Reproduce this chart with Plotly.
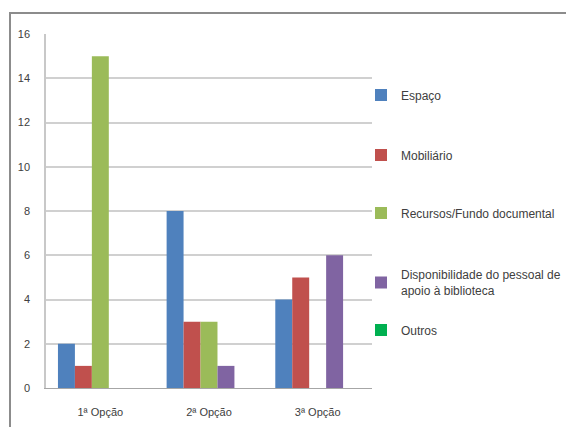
import plotly.graph_objects as go

categories = ["1ª Opção", "2ª Opção", "3ª Opção"]
series_names = ["Espaço", "Mobiliário", "Recursos/Fundo documental",
                "Disponibilidade do pessoal de<br>apoio à biblioteca", "Outros"]
espaco = [2, 8, 4]
mobiliario = [1, 3, 5]
recursos = [15, 3, 0]
disponibilidade = [0, 1, 6]
outros = [0, 0, 0]
colors = ["#4F81BD", "#C0504D", "#9BBB59", "#8064A2", "#00B050"]
y_ticks = [0, 2, 4, 6, 8, 10, 12, 14, 16]

values = [espaco, mobiliario, recursos, disponibilidade, outros]

FONT = "Liberation Sans Narrow, Arial Narrow, Liberation Sans, sans-serif"
OFF = 8  # default page body margin
PW, PH = 574, 427
W, H = PW - OFF, PH - OFF
# plot area in page pixels: left 46, right 372, top 34, bottom 388
ml, mt = 46 - OFF, 34 - OFF
mr, mb = W - (372 - OFF), H - (388 - OFF)
pw, ph = W - ml - mr, H - mt - mb

def px_x(x):  # page pixel -> paper
    return (x - OFF - ml) / pw

def px_y(y):
    return (H - mb - (y - OFF)) / ph

fig = go.Figure()
legend_names = ["legend", "legend2", "legend3", "legend4", "legend5"]
legend_centers = [95, 155, 213, 283, 330]
for name, vals, col, lg in zip(series_names, values, colors, legend_names):
    fig.add_trace(go.Bar(x=categories, y=vals, name=name, marker_color=col,
                         marker_line_width=0, legend=lg))

layout_legends = {}
for lg, yc in zip(legend_names, legend_centers):
    layout_legends[lg] = dict(x=px_x(361), y=px_y(yc), xanchor="left", yanchor="middle",
                              bgcolor="rgba(0,0,0,0)", font=dict(family=FONT, size=12, color="#404040"),
                              itemwidth=30, tracegroupgap=0)

fig.update_layout(
    width=W, height=H,
    margin=dict(l=ml, r=mr, t=mt, b=mb, autoexpand=False),
    paper_bgcolor="white", plot_bgcolor="white",
    barmode="group", bargap=0.22, bargroupgap=0,
    showlegend=True,
    font=dict(family=FONT, size=11, color="#404040"),
    xaxis=dict(showgrid=False, showline=True, linecolor="#A6A6A6", linewidth=1,
               ticks="", tickfont=dict(family=FONT, size=11, color="#404040"),
               ticklabelstandoff=14),
    yaxis=dict(range=[0, 16], tickvals=y_ticks, showgrid=True, gridcolor="#D0D0D0",
               gridwidth=1.5, showline=True, linecolor="#C8C8C8", linewidth=1.5,
               zeroline=False, ticks="", tickfont=dict(family=FONT, size=11, color="#404040"),
               ticklabelstandoff=12),
    shapes=[dict(type="rect", xref="paper", yref="paper",
                 x0=px_x(10), x1=px_x(600), y0=px_y(450), y1=px_y(13),
                 line=dict(color="#8C8C8C", width=2), fillcolor="rgba(0,0,0,0)", layer="below")],
    **layout_legends,
)

fig.write_html("out.html")
